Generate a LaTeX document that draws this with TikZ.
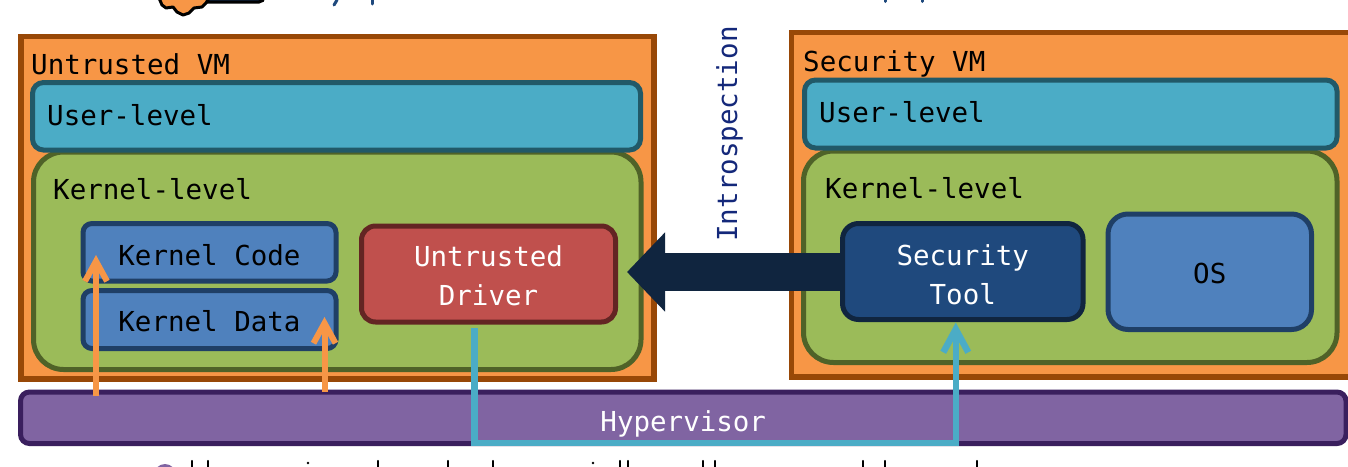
\documentclass[tikz,border=0pt]{standalone}
\usepackage{fontspec}
\setmainfont{DejaVu Sans Mono}
\usetikzlibrary{arrows.meta}
\newcommand\droptext[2]{\smash{\raisebox{-#1pt}{#2}}}
\definecolor{orfill}{HTML}{F79646}
\definecolor{ordraw}{HTML}{984807}
\definecolor{tealfill}{HTML}{4BACC6}
\definecolor{tealdraw}{HTML}{215968}
\definecolor{grfill}{HTML}{9BBB59}
\definecolor{grdraw}{HTML}{4F6228}
\definecolor{blfill}{HTML}{4F81BD}
\definecolor{bldraw}{HTML}{1F3F66}
\definecolor{redfill}{HTML}{C0504D}
\definecolor{reddraw}{HTML}{632523}
\definecolor{navyfill}{HTML}{1F497D}
\definecolor{navydraw}{HTML}{10253F}
\definecolor{pufill}{HTML}{8064A2}
\definecolor{pudraw}{HTML}{3A1F5E}
\definecolor{titleblue}{HTML}{14287A}
\tikzset{
  x=1pt,y=-1pt,
  lbl/.style={font=\fontsize{27.5}{27.5}\selectfont,inner sep=0pt,text=black,anchor=base west},
  boxbase/.style={inner sep=0pt,outer sep=0pt,line width=5pt,align=center,font=\fontsize{27.5}{39}\selectfont},
  vm/.style={draw=ordraw,fill=orfill,line width=5.5pt},
  user/.style={draw=tealdraw,fill=tealfill,line width=5pt,rounded corners=11pt},
  kernel/.style={draw=grdraw,fill=grfill,line width=5pt,rounded corners=30pt},
  kbox/.style={boxbase,draw=bldraw,fill=blfill,rounded corners=9pt,text=black},
  orarrow/.style={draw=orfill,line width=6pt,-{Straight Barb[length=20pt,width=22pt,line width=6pt]}},
  tealline/.style={draw=tealfill,line width=6.5pt,-{Straight Barb[length=23pt,width=25pt,line width=6.5pt]}},
  bigarrow/.style={draw=navydraw,line width=38pt,shorten >=11.5pt,-{Triangle[length=38pt,width=77pt]}},
  fragment/.style={black,line width=2.2pt,line cap=round},
  bluefrag/.style={navyfill,line width=3pt,line cap=round},
}
\begin{document}
\begin{tikzpicture}
\useasboundingbox (0,0) rectangle (1348,466);
\fill[white] (0,0) rectangle (1348,466);
% cropped remains of the title icon and lines
\draw[black,fill=navydraw,line width=3pt,rounded corners=5pt] (200,-10) rectangle (264,2);
\draw[black,fill=orfill,line width=3pt,line join=round] (159,-2) -- (162,5) -- (166,8) -- (173,7) -- (177,12) -- (183,15) -- (189,13) -- (194,8) -- (202,7) -- (206,3) -- (209,-2) -- cycle;
\draw[bluefrag] (337,0) -- (334,5);
\draw[bluefrag] (372,0) -- (372,4);
\draw[bluefrag] (885,0) -- (885,1.5);
\draw[bluefrag] (922,0) -- (922,1.5);
% left VM
\draw[vm] (21,36.5) rectangle (654,379);
\draw[kernel] (33.5,152) rectangle (641,369.5);
\draw[user] (32.5,82.5) rectangle (640.5,150);
% right VM
\draw[vm] (791.5,32.5) rectangle (1352,377);
\draw[kernel] (803.5,151) rectangle (1337,362.5);
\draw[user] (804.5,80) rectangle (1337,148);
% hypervisor
\node[boxbase,draw=pudraw,fill=pufill,rounded corners=9pt,text=white,minimum width=1325.5pt,minimum height=51.5pt] (hyper) at (683.25,417.75) {\droptext{13.25}{Hypervisor}};
% inner boxes
\node[kbox,minimum width=253pt,minimum height=57.5pt] (kcode) at (209.5,252.25) {\droptext{12.75}{Kernel Code}};
\node[kbox,minimum width=253pt,minimum height=58pt] (kdata) at (209.5,319.5) {\droptext{11.5}{Kernel Data}};
\node[boxbase,draw=reddraw,fill=redfill,text=white,rounded corners=14pt,minimum width=254pt,minimum height=96pt] (driver) at (488.5,274) {\droptext{12}{Untrusted}\\\droptext{12}{Driver}};
\node[kbox,rounded corners=20pt,minimum width=203.5pt,minimum height=115.5pt] (os) at (1209.75,271.75) {\droptext{11.5}{OS}};
% introspection arrow, behind the tool box
\coordinate (tooledge) at (850,272);
\draw[bigarrow] (tooledge) -- (tooledge -| driver.east);
\node[boxbase,draw=navydraw,fill=navyfill,text=white,rounded corners=16pt,minimum width=240.5pt,minimum height=96pt] (tool) at (962.75,271.5) {\droptext{13}{Security}\\\droptext{13}{Tool}};
% labels
\node[lbl] (untrusted) at (31,74) {Untrusted VM};
\node[lbl] (security) at (803,71) {Security VM};
\node[lbl] (user1) at (47,125) {User-level};
\node[lbl] (user2) at (819,122) {User-level};
\node[lbl] (kern1) at (53,199) {Kernel-level};
\node[lbl] (kern2) at (825,198) {Kernel-level};
\node[font=\fontsize{27.5}{27.5}\selectfont,text=titleblue,rotate=90,inner sep=0pt,anchor=base] (intro) at (737,134) {Introspection};
% orange arrows
\coordinate (o1s) at (96,396);
\coordinate (o1e) at (96,255);
\coordinate (o2s) at (324.5,392);
\coordinate (o2e) at (324.5,317);
\draw[orarrow] (o1s) -- (o1e);
\draw[orarrow] (o2s) -- (o2e);
% teal connector
\coordinate (bus) at (700,443);
\draw[tealline] ([xshift=-14pt,yshift=-6pt]driver.south) |- (bus) -| ([xshift=-7pt,yshift=-3pt]tool.south);
% cropped remains of the text below
\fill[pufill] (165,475) circle (11);
\foreach \px in {192,208,378,448,493,620,628,703,715,863,885,977}{
  \draw[fragment] (\px,461) -- (\px,467);
}
\foreach \px in {308,593}{
  \fill[black] (\px,463) circle (1.3);
}
\end{tikzpicture}
\end{document}
